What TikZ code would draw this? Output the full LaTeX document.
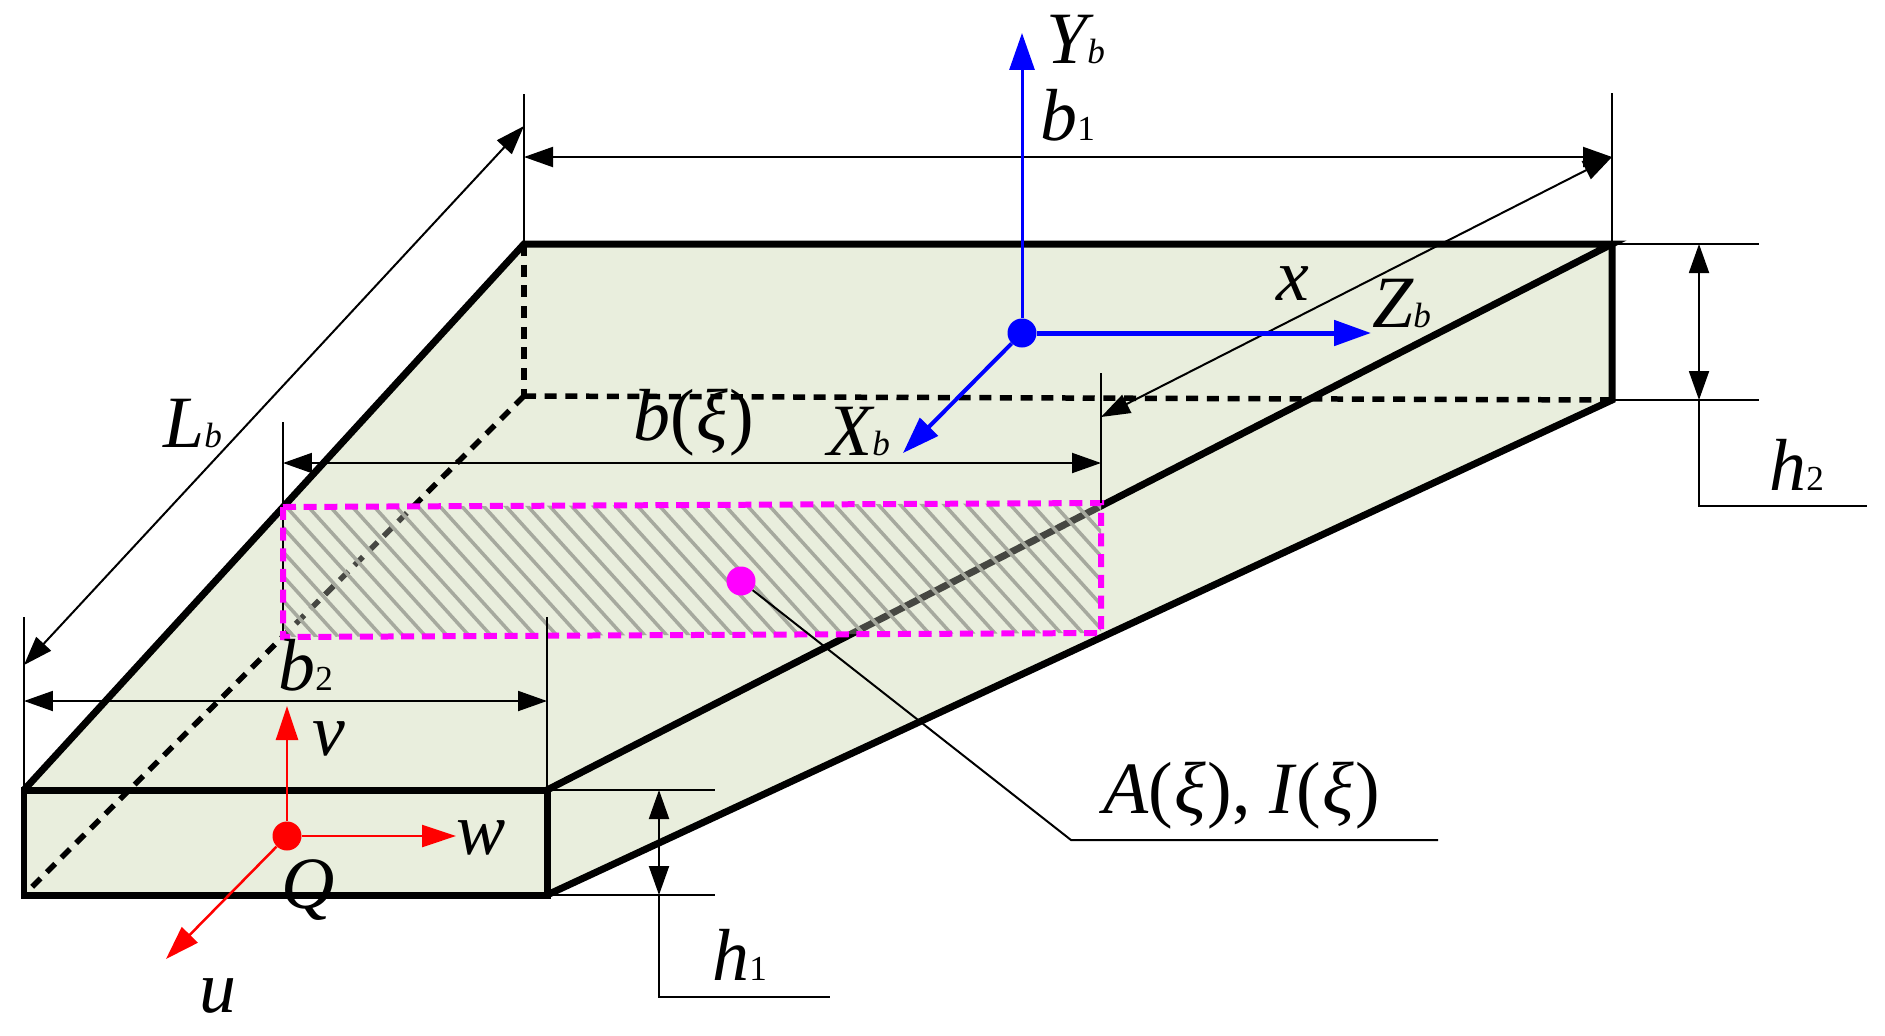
\documentclass[tikz,border=0pt]{standalone}
\usepackage{fontspec}
\setmainfont{Liberation Serif}
\usetikzlibrary{arrows.meta,positioning}
\definecolor{facegreen}{HTML}{E9EEDD}
\definecolor{hatchgray}{HTML}{A6A99E}
\definecolor{secmagenta}{HTML}{FF00FF}
\definecolor{axisblue}{HTML}{0000FF}
\definecolor{axisred}{HTML}{FF0000}
\newcommand{\bigtxt}{\fontsize{42}{42}\selectfont\itshape}
\newcommand{\lab}[2]{{\bigtxt #1}{\fontsize{20}{20}\selectfont #2}}
\newcommand{\xipar}{\textup{(}\kern0.02em ξ\kern0.02em\textup{)}}
\tikzset{
  edgeline/.style={line width=7*0.569pt,line join=miter},
  hiddenline/.style={line width=5.5*0.569pt,dash pattern=on 12*0.569pt off 8.7*0.569pt},
  thinline/.style={line width=2*0.569pt},
  dimline/.style={thinline,{Triangle[length=0.58cm,width=0.4cm]}-{Triangle[length=0.58cm,width=0.4cm]}},
  sectionline/.style={secmagenta,line width=6*0.569pt,dash pattern=on 13*0.569pt off 7.7*0.569pt},
  bluearrow/.style={axisblue,-{Triangle[length=0.74cm,width=0.5cm]}},
  redarrow/.style={axisred,line width=2.5*0.569pt,-{Triangle[length=0.68cm,width=0.44cm]}},
  dot/.style={circle,inner sep=0pt,minimum size=0.58cm},
  txt/.style={anchor=base west,inner sep=0pt}
}
\begin{document}
\begin{tikzpicture}[x=0.02cm,y=-0.02cm]
\useasboundingbox (0,0) rectangle (1885,1035);
% corners of the tapered box
\coordinate (FTL) at (24,790);
\coordinate (FTR) at (547,790);
\coordinate (FBR) at (547,895);
\coordinate (FBL) at (24,895);
\coordinate (BTL) at (524,244);
\coordinate (BTR) at (1612,244);
\coordinate (BBR) at (1612,400);
\coordinate (BBL) at (524,396);
% section corners
\coordinate (STL) at (283,507);
\coordinate (STR) at (1101,503);
\coordinate (SBR) at (1101,633);
\coordinate (SBL) at (283,637);
\fill[facegreen] (FTL)--(BTL)--(BTR)--(BBR)--(FBR)--(FBL)--cycle;
\draw[hiddenline] (BTL)--(BBL);
\draw[hiddenline] (BBL)--(BBR);
\draw[hiddenline] (BBL)--(FBL);
\draw[edgeline] (FTL)--(BTL)--(BTR)--(FTR);
\draw[edgeline] (BTR)--(BBR)--(FBR);
\draw[edgeline] (FTL) rectangle (FBR);
% hatched section
\fill[facegreen,opacity=0.3] (STL)--(STR)--(SBR)--(SBL)--cycle;
\begin{scope}
\clip (STL)--(STR)--(SBR)--(SBL)--cycle;
\foreach \i in {0,22,...,1000}
  \draw[hatchgray,line width=3.5*0.569pt] (130+\i,480)--(275+\i,640);
\end{scope}
\draw[thinline] (SBL)--(283,422);
\draw[sectionline] (STL)--(STR)--(SBR)--(SBL)--cycle;
\node[dot,fill=secmagenta] (Sdot) at (741,581) {};
% dimension lines
\coordinate (LbTop) at (524,126);
\draw[thinline] (BTL)--(524,94);
\draw[thinline] (BTR)--(1612,93);
\draw[thinline] (FTL)--(24,617);
\draw[thinline] (FTR)--(547,617);
\draw[thinline] (STR)--(1101,373);
\draw[thinline] (BTR)--(1759,244);
\draw[thinline] (BBR)--(1759,400);
\draw[thinline] (FTR)--(715,790);
\draw[thinline] (FBR)--(715,895);
\draw[dimline] (524,157)--(1612,157);
\draw[dimline] (LbTop)--(24,665);
\draw[dimline] (1612,157)--(1101,417);
\draw[dimline] (283,463)--(1101,463);
\draw[dimline] (24,701)--(547,701);
\draw[dimline] (1699,244)--(1699,400);
\draw[dimline] (659,790)--(659,895);
% leaders
\draw[thinline] (1699,400)--(1699,506)--(1867,506);
\draw[thinline] (659,895)--(659,997)--(830,997);
\draw[thinline] (Sdot)--(1071,840)--(1438,840);
% local axes
\node[dot,fill=axisblue] (Oblue) at (1022,333) {};
\coordinate (Yb) at (1022,33);
\coordinate (Zb) at (1371,333);
\coordinate (Xb) at (903,453);
\draw[bluearrow,line width=3*0.569pt] (Oblue)--(Yb);
\draw[bluearrow,line width=5*0.569pt] (Oblue)--(Zb);
\draw[bluearrow,line width=4*0.569pt] (Oblue)--(Xb);
\node[dot,fill=axisred] (Ored) at (287,836) {};
\coordinate (Vt) at (287,706);
\coordinate (Wt) at (456,836);
\coordinate (Ut) at (166,959);
\draw[redarrow] (Ored)--(Vt);
\draw[redarrow] (Ored)--(Wt);
\draw[redarrow] (Ored)--(Ut);
% labels
\node[txt] (lYb) at (1046,63) {\lab{Y}{\textit{b}}};
\node[txt] (lb1) at (1040,140) {\lab{b}{1}};
\node[txt] (lx) at (1276,300) {\bigtxt x};
\node[txt] (lZb) at (1372,327) {\lab{Z}{\textit{b}}};
\node[txt] (lh2) at (1769,490) {\lab{h}{2}};
\node[txt] (lxi) at (633,440) {\bigtxt b\xipar};
\node[txt] (lXb) at (827,455) {\lab{X}{\textit{b}}};
\node[txt] (lLb) at (163,447) {\lab{L}{\textit{b}}};
\node[txt] (lb2) at (278,690) {\lab{b}{2}};
\node[txt] (lv) at (312,755) {\bigtxt v};
\node[txt] (lw) at (456,854) {\bigtxt w};
\node[txt] (lQ) at (281,908) {\bigtxt Q};
\node[txt] (lu) at (199,1012) {\bigtxt u};
\node[txt] (lh1) at (712,980) {\lab{h}{1}};
\node[txt] (lAI) at (1103,813) {\bigtxt A\xipar\textup{,} I\xipar};
\end{tikzpicture}
\end{document}
